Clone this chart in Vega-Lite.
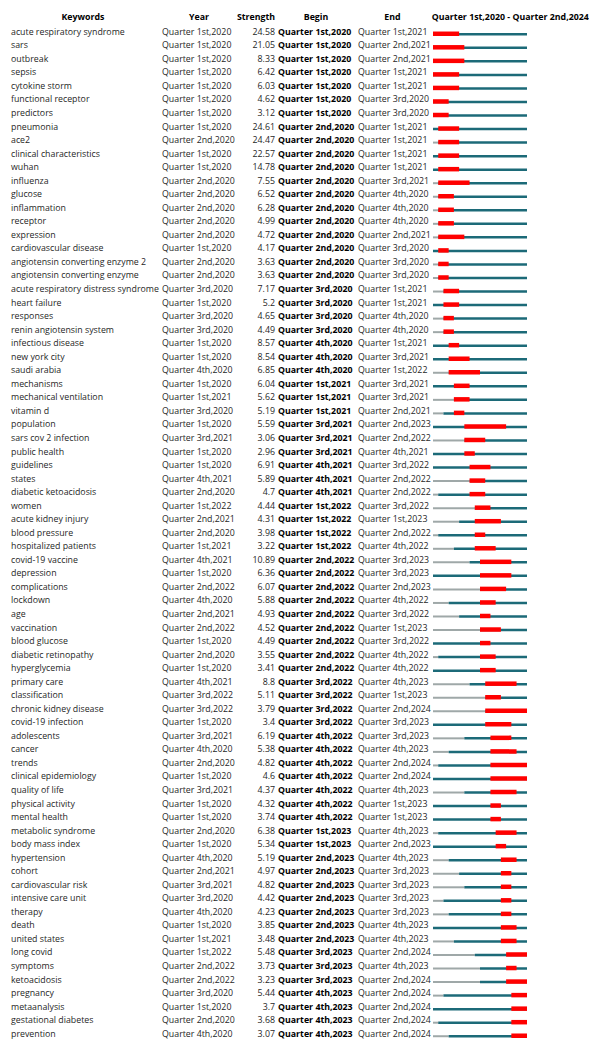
{
  "$schema": "https://vega.github.io/schema/vega-lite/v6.json",
  "padding": {"left": 0, "top": 13, "right": 0, "bottom": 0},
  "background": "white",
  "bounds": "flush",
  "spacing": 0,
  "config": {
    "view": {"stroke": null},
    "font": "Open Sans",
    "title": {"fontSize": 8.8, "fontWeight": "bold", "color": "#000000", "offset": 3, "font": "Open Sans"},
    "text": {"font": "Open Sans", "fontSize": 8.8}
  },
  "datasets": {
    "rows": [
      {"k": "acute respiratory syndrome", "yr": "Quarter 1st,2020", "s": 24.58, "b": "Quarter 1st,2020", "e": "Quarter 1st,2021"},
      {"k": "sars", "yr": "Quarter 1st,2020", "s": 21.05, "b": "Quarter 1st,2020", "e": "Quarter 2nd,2021"},
      {"k": "outbreak", "yr": "Quarter 1st,2020", "s": 8.33, "b": "Quarter 1st,2020", "e": "Quarter 2nd,2021"},
      {"k": "sepsis", "yr": "Quarter 1st,2020", "s": 6.42, "b": "Quarter 1st,2020", "e": "Quarter 1st,2021"},
      {"k": "cytokine storm", "yr": "Quarter 1st,2020", "s": 6.03, "b": "Quarter 1st,2020", "e": "Quarter 1st,2021"},
      {"k": "functional receptor", "yr": "Quarter 1st,2020", "s": 4.62, "b": "Quarter 1st,2020", "e": "Quarter 3rd,2020"},
      {"k": "predictors", "yr": "Quarter 1st,2020", "s": 3.12, "b": "Quarter 1st,2020", "e": "Quarter 3rd,2020"},
      {"k": "pneumonia", "yr": "Quarter 1st,2020", "s": 24.61, "b": "Quarter 2nd,2020", "e": "Quarter 1st,2021"},
      {"k": "ace2", "yr": "Quarter 2nd,2020", "s": 24.47, "b": "Quarter 2nd,2020", "e": "Quarter 1st,2021"},
      {"k": "clinical characteristics", "yr": "Quarter 1st,2020", "s": 22.57, "b": "Quarter 2nd,2020", "e": "Quarter 1st,2021"},
      {"k": "wuhan", "yr": "Quarter 1st,2020", "s": 14.78, "b": "Quarter 2nd,2020", "e": "Quarter 1st,2021"},
      {"k": "influenza", "yr": "Quarter 2nd,2020", "s": 7.55, "b": "Quarter 2nd,2020", "e": "Quarter 3rd,2021"},
      {"k": "glucose", "yr": "Quarter 2nd,2020", "s": 6.52, "b": "Quarter 2nd,2020", "e": "Quarter 4th,2020"},
      {"k": "inflammation", "yr": "Quarter 2nd,2020", "s": 6.28, "b": "Quarter 2nd,2020", "e": "Quarter 4th,2020"},
      {"k": "receptor", "yr": "Quarter 2nd,2020", "s": 4.99, "b": "Quarter 2nd,2020", "e": "Quarter 4th,2020"},
      {"k": "expression", "yr": "Quarter 2nd,2020", "s": 4.72, "b": "Quarter 2nd,2020", "e": "Quarter 2nd,2021"},
      {"k": "cardiovascular disease", "yr": "Quarter 1st,2020", "s": 4.17, "b": "Quarter 2nd,2020", "e": "Quarter 3rd,2020"},
      {"k": "angiotensin converting enzyme 2", "yr": "Quarter 2nd,2020", "s": 3.63, "b": "Quarter 2nd,2020", "e": "Quarter 3rd,2020"},
      {"k": "angiotensin converting enzyme", "yr": "Quarter 2nd,2020", "s": 3.63, "b": "Quarter 2nd,2020", "e": "Quarter 3rd,2020"},
      {"k": "acute respiratory distress syndrome", "yr": "Quarter 3rd,2020", "s": 7.17, "b": "Quarter 3rd,2020", "e": "Quarter 1st,2021"},
      {"k": "heart failure", "yr": "Quarter 1st,2020", "s": 5.2, "b": "Quarter 3rd,2020", "e": "Quarter 1st,2021"},
      {"k": "responses", "yr": "Quarter 3rd,2020", "s": 4.65, "b": "Quarter 3rd,2020", "e": "Quarter 4th,2020"},
      {"k": "renin angiotensin system", "yr": "Quarter 3rd,2020", "s": 4.49, "b": "Quarter 3rd,2020", "e": "Quarter 4th,2020"},
      {"k": "infectious disease", "yr": "Quarter 1st,2020", "s": 8.57, "b": "Quarter 4th,2020", "e": "Quarter 1st,2021"},
      {"k": "new york city", "yr": "Quarter 1st,2020", "s": 8.54, "b": "Quarter 4th,2020", "e": "Quarter 3rd,2021"},
      {"k": "saudi arabia", "yr": "Quarter 4th,2020", "s": 6.85, "b": "Quarter 4th,2020", "e": "Quarter 1st,2022"},
      {"k": "mechanisms", "yr": "Quarter 1st,2020", "s": 6.04, "b": "Quarter 1st,2021", "e": "Quarter 3rd,2021"},
      {"k": "mechanical ventilation", "yr": "Quarter 1st,2021", "s": 5.62, "b": "Quarter 1st,2021", "e": "Quarter 3rd,2021"},
      {"k": "vitamin d", "yr": "Quarter 3rd,2020", "s": 5.19, "b": "Quarter 1st,2021", "e": "Quarter 2nd,2021"},
      {"k": "population", "yr": "Quarter 1st,2020", "s": 5.59, "b": "Quarter 3rd,2021", "e": "Quarter 2nd,2023"},
      {"k": "sars cov 2 infection", "yr": "Quarter 3rd,2021", "s": 3.06, "b": "Quarter 3rd,2021", "e": "Quarter 2nd,2022"},
      {"k": "public health", "yr": "Quarter 1st,2020", "s": 2.96, "b": "Quarter 3rd,2021", "e": "Quarter 4th,2021"},
      {"k": "guidelines", "yr": "Quarter 1st,2020", "s": 6.91, "b": "Quarter 4th,2021", "e": "Quarter 3rd,2022"},
      {"k": "states", "yr": "Quarter 4th,2021", "s": 5.89, "b": "Quarter 4th,2021", "e": "Quarter 2nd,2022"},
      {"k": "diabetic ketoacidosis", "yr": "Quarter 2nd,2020", "s": 4.7, "b": "Quarter 4th,2021", "e": "Quarter 2nd,2022"},
      {"k": "women", "yr": "Quarter 1st,2022", "s": 4.44, "b": "Quarter 1st,2022", "e": "Quarter 3rd,2022"},
      {"k": "acute kidney injury", "yr": "Quarter 2nd,2021", "s": 4.31, "b": "Quarter 1st,2022", "e": "Quarter 1st,2023"},
      {"k": "blood pressure", "yr": "Quarter 2nd,2020", "s": 3.98, "b": "Quarter 1st,2022", "e": "Quarter 2nd,2022"},
      {"k": "hospitalized patients", "yr": "Quarter 1st,2021", "s": 3.22, "b": "Quarter 1st,2022", "e": "Quarter 4th,2022"},
      {"k": "covid-19 vaccine", "yr": "Quarter 4th,2021", "s": 10.89, "b": "Quarter 2nd,2022", "e": "Quarter 3rd,2023"},
      {"k": "depression", "yr": "Quarter 1st,2020", "s": 6.36, "b": "Quarter 2nd,2022", "e": "Quarter 3rd,2023"},
      {"k": "complications", "yr": "Quarter 2nd,2022", "s": 6.07, "b": "Quarter 2nd,2022", "e": "Quarter 2nd,2023"},
      {"k": "lockdown", "yr": "Quarter 4th,2020", "s": 5.88, "b": "Quarter 2nd,2022", "e": "Quarter 4th,2022"},
      {"k": "age", "yr": "Quarter 2nd,2021", "s": 4.93, "b": "Quarter 2nd,2022", "e": "Quarter 3rd,2022"},
      {"k": "vaccination", "yr": "Quarter 2nd,2022", "s": 4.52, "b": "Quarter 2nd,2022", "e": "Quarter 1st,2023"},
      {"k": "blood glucose", "yr": "Quarter 1st,2020", "s": 4.49, "b": "Quarter 2nd,2022", "e": "Quarter 3rd,2022"},
      {"k": "diabetic retinopathy", "yr": "Quarter 2nd,2020", "s": 3.55, "b": "Quarter 2nd,2022", "e": "Quarter 4th,2022"},
      {"k": "hyperglycemia", "yr": "Quarter 1st,2020", "s": 3.41, "b": "Quarter 2nd,2022", "e": "Quarter 4th,2022"},
      {"k": "primary care", "yr": "Quarter 4th,2021", "s": 8.8, "b": "Quarter 3rd,2022", "e": "Quarter 4th,2023"},
      {"k": "classification", "yr": "Quarter 3rd,2022", "s": 5.11, "b": "Quarter 3rd,2022", "e": "Quarter 1st,2023"},
      {"k": "chronic kidney disease", "yr": "Quarter 3rd,2022", "s": 3.79, "b": "Quarter 3rd,2022", "e": "Quarter 2nd,2024"},
      {"k": "covid-19 infection", "yr": "Quarter 1st,2020", "s": 3.4, "b": "Quarter 3rd,2022", "e": "Quarter 3rd,2023"},
      {"k": "adolescents", "yr": "Quarter 3rd,2021", "s": 6.19, "b": "Quarter 4th,2022", "e": "Quarter 3rd,2023"},
      {"k": "cancer", "yr": "Quarter 4th,2020", "s": 5.38, "b": "Quarter 4th,2022", "e": "Quarter 4th,2023"},
      {"k": "trends", "yr": "Quarter 2nd,2020", "s": 4.82, "b": "Quarter 4th,2022", "e": "Quarter 2nd,2024"},
      {"k": "clinical epidemiology", "yr": "Quarter 1st,2020", "s": 4.6, "b": "Quarter 4th,2022", "e": "Quarter 2nd,2024"},
      {"k": "quality of life", "yr": "Quarter 3rd,2021", "s": 4.37, "b": "Quarter 4th,2022", "e": "Quarter 4th,2023"},
      {"k": "physical activity", "yr": "Quarter 1st,2020", "s": 4.32, "b": "Quarter 4th,2022", "e": "Quarter 1st,2023"},
      {"k": "mental health", "yr": "Quarter 1st,2020", "s": 3.74, "b": "Quarter 4th,2022", "e": "Quarter 1st,2023"},
      {"k": "metabolic syndrome", "yr": "Quarter 2nd,2020", "s": 6.38, "b": "Quarter 1st,2023", "e": "Quarter 4th,2023"},
      {"k": "body mass index", "yr": "Quarter 1st,2020", "s": 5.34, "b": "Quarter 1st,2023", "e": "Quarter 2nd,2023"},
      {"k": "hypertension", "yr": "Quarter 4th,2020", "s": 5.19, "b": "Quarter 2nd,2023", "e": "Quarter 4th,2023"},
      {"k": "cohort", "yr": "Quarter 2nd,2021", "s": 4.97, "b": "Quarter 2nd,2023", "e": "Quarter 3rd,2023"},
      {"k": "cardiovascular risk", "yr": "Quarter 3rd,2021", "s": 4.82, "b": "Quarter 2nd,2023", "e": "Quarter 3rd,2023"},
      {"k": "intensive care unit", "yr": "Quarter 3rd,2020", "s": 4.42, "b": "Quarter 2nd,2023", "e": "Quarter 3rd,2023"},
      {"k": "therapy", "yr": "Quarter 4th,2020", "s": 4.23, "b": "Quarter 2nd,2023", "e": "Quarter 3rd,2023"},
      {"k": "death", "yr": "Quarter 1st,2020", "s": 3.85, "b": "Quarter 2nd,2023", "e": "Quarter 4th,2023"},
      {"k": "united states", "yr": "Quarter 1st,2021", "s": 3.48, "b": "Quarter 2nd,2023", "e": "Quarter 4th,2023"},
      {"k": "long covid", "yr": "Quarter 1st,2022", "s": 5.48, "b": "Quarter 3rd,2023", "e": "Quarter 2nd,2024"},
      {"k": "symptoms", "yr": "Quarter 2nd,2022", "s": 3.73, "b": "Quarter 3rd,2023", "e": "Quarter 4th,2023"},
      {"k": "ketoacidosis", "yr": "Quarter 2nd,2022", "s": 3.23, "b": "Quarter 3rd,2023", "e": "Quarter 2nd,2024"},
      {"k": "pregnancy", "yr": "Quarter 3rd,2020", "s": 5.44, "b": "Quarter 4th,2023", "e": "Quarter 2nd,2024"},
      {"k": "metaanalysis", "yr": "Quarter 1st,2020", "s": 3.7, "b": "Quarter 4th,2023", "e": "Quarter 2nd,2024"},
      {"k": "gestational diabetes", "yr": "Quarter 2nd,2020", "s": 3.68, "b": "Quarter 4th,2023", "e": "Quarter 2nd,2024"},
      {"k": "prevention", "yr": "Quarter 4th,2020", "s": 3.07, "b": "Quarter 4th,2023", "e": "Quarter 2nd,2024"}
    ]
  },
  "data": {"name": "rows"},
  "hconcat": [
    {
      "width": 162, "height": 1015.5,
      "title": {"text": "Keywords", "anchor": "middle", "dx": 2},
      "mark": {"type": "text", "align": "left", "dx": 11, "color": "#1f1f1f"},
      "encoding": {
        "x": {"value": 0},
        "y": {"field": "k", "type": "nominal", "sort": null, "axis": null, "scale": {"type": "point", "padding": 0.5}},
        "text": {"field": "k", "type": "nominal"}
      }
    },
    {
      "width": 74, "height": 1015.5,
      "title": {"text": "Year", "anchor": "middle"},
      "mark": {"type": "text", "align": "left", "color": "#1f1f1f"},
      "encoding": {
        "x": {"value": 0},
        "y": {"field": "k", "type": "nominal", "sort": null, "axis": null, "scale": {"type": "point", "padding": 0.5}},
        "text": {"field": "yr", "type": "nominal"}
      }
    },
    {
      "width": 40, "height": 1015.5,
      "title": {"text": "Strength", "anchor": "middle"},
      "mark": {"type": "text", "align": "right", "dx": -1, "color": "#1f1f1f"},
      "encoding": {
        "x": {"value": 40},
        "y": {"field": "k", "type": "nominal", "sort": null, "axis": null, "scale": {"type": "point", "padding": 0.5}},
        "text": {"field": "s", "type": "quantitative", "format": "~g"}
      }
    },
    {
      "width": 80, "height": 1015.5,
      "title": {"text": "Begin", "anchor": "middle"},
      "mark": {"type": "text", "align": "left", "dx": 2, "fontWeight": "bold", "color": "#000000"},
      "encoding": {
        "x": {"value": 0},
        "y": {"field": "k", "type": "nominal", "sort": null, "axis": null, "scale": {"type": "point", "padding": 0.5}},
        "text": {"field": "b", "type": "nominal"}
      }
    },
    {
      "width": 77, "height": 1015.5,
      "title": {"text": "End", "anchor": "middle", "dx": -2},
      "mark": {"type": "text", "align": "left", "dx": 2, "color": "#1f1f1f"},
      "encoding": {
        "x": {"value": 0},
        "y": {"field": "k", "type": "nominal", "sort": null, "axis": null, "scale": {"type": "point", "padding": 0.5}},
        "text": {"field": "e", "type": "nominal"}
      }
    },
    {
      "width": 94, "height": 1015.5,
      "title": {"text": "Quarter 1st,2020 - Quarter 2nd,2024", "anchor": "start"},
      "transform": [
        {"calculate": "(toNumber(substring(datum.yr, 12, 16)) - 2020) * 4 + toNumber(substring(datum.yr, 8, 9)) - 1", "as": "yi"},
        {"calculate": "(toNumber(substring(datum.b, 12, 16)) - 2020) * 4 + toNumber(substring(datum.b, 8, 9)) - 1", "as": "bi"},
        {"calculate": "(toNumber(substring(datum.e, 12, 16)) - 2020) * 4 + toNumber(substring(datum.e, 8, 9))", "as": "ei"},
        {"calculate": "0", "as": "lo"},
        {"calculate": "18", "as": "hi"}
      ],
      "layer": [
        {
          "mark": {"type": "rule", "color": "#9fa8a8", "strokeWidth": 2, "yOffset": 2.5},
          "encoding": {
            "y": {"field": "k", "type": "nominal", "sort": null, "axis": null, "scale": {"type": "band", "paddingInner": 0, "paddingOuter": 0}},
            "x": {"field": "lo", "type": "quantitative", "scale": {"domain": [0, 18], "nice": false, "zero": false}, "axis": null},
            "x2": {"field": "yi"}
          }
        },
        {
          "mark": {"type": "rule", "color": "#1c6a78", "strokeWidth": 2.5, "yOffset": 2.5},
          "encoding": {
            "y": {"field": "k", "type": "nominal", "sort": null, "axis": null},
            "x": {"field": "yi", "type": "quantitative", "axis": null},
            "x2": {"field": "hi"}
          }
        },
        {
          "mark": {"type": "bar", "color": "#ff0000", "height": 4.5, "yOffset": 2},
          "encoding": {
            "y": {"field": "k", "type": "nominal", "sort": null, "axis": null},
            "x": {"field": "bi", "type": "quantitative", "axis": null},
            "x2": {"field": "ei"}
          }
        }
      ]
    }
  ]
}
